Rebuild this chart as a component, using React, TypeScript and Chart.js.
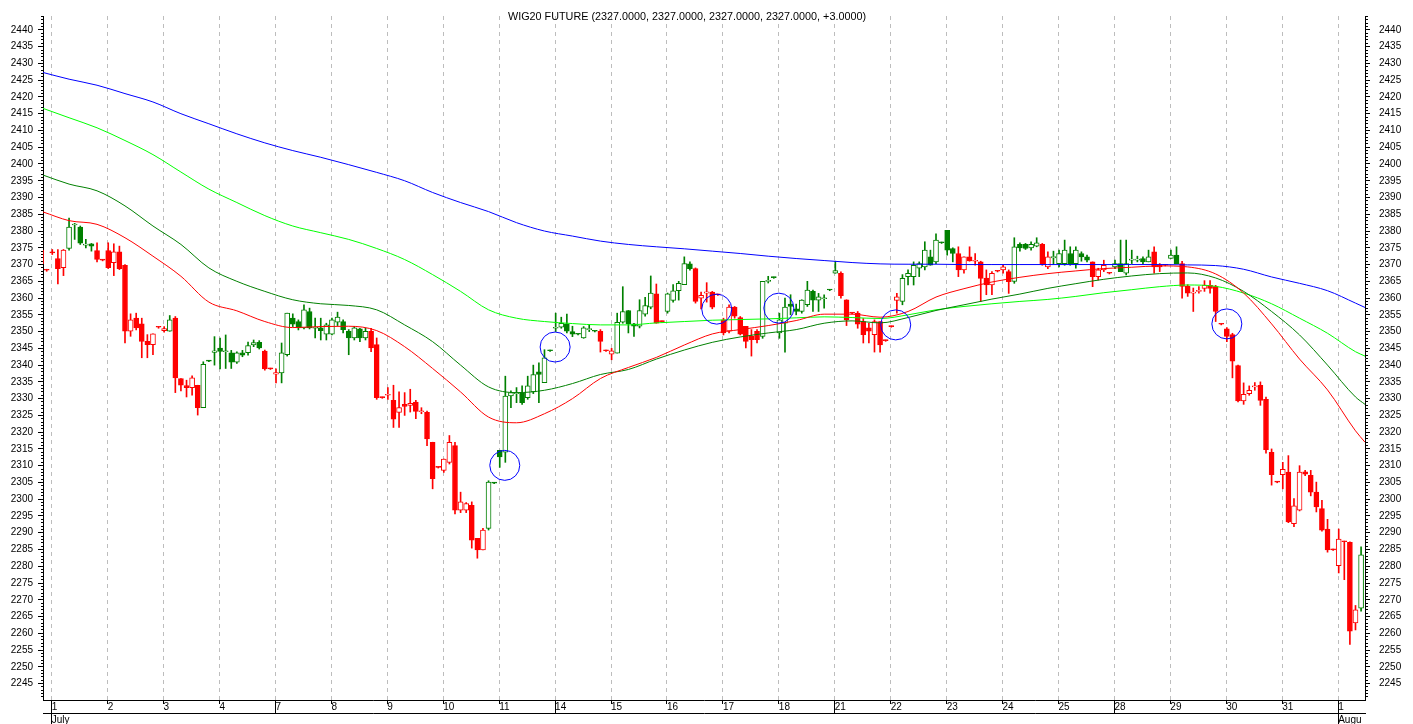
import React, { useEffect, useRef } from 'react';
import { Chart, registerables } from 'chart.js';

Chart.register(...registerables);

const TITLE = 'WIG20 FUTURE (2327.0000, 2327.0000, 2327.0000, 2327.0000, +3.0000)';
const FONT = '"Liberation Sans", Arial, sans-serif';

const DAYS = ['1','2','3','4','7','8','9','10','11','14','15','16','17','18','21','22','23','24','25','28','29','30','31','1'];
const DAY_START = [2,12,22,32,42,52,62,72,82,92,102,112,122,132,142,152,162,172,182,192,202,212,222,232];
const LONG_TICK = [true,false,false,false,true,false,false,false,false,true,false,false,false,false,true,false,false,false,false,true,false,false,false,true];
const MONTHS = ['July', 'Augu'];
const MONTH_START = [2, 232];

const OPEN = [
  2374.3,2368.3,2373.5,2371.8,2369.1,2374.8,2381.8,2381.2,2375.8,2376.2,
  2374.2,2371.3,2374.2,2370.6,2373.8,2369.8,2350.1,2354.0,2352.3,2347.1,
  2346.1,2351.3,2350.3,2350.1,2354.0,2336.0,2333.9,2333.3,2334.0,2327.3,
  2341.2,2343.8,2345.1,2344.0,2343.7,2340.9,2343.7,2343.7,2346.0,2346.8,
  2344.2,2338.9,2337.3,2337.7,2343.1,2354.0,2353.0,2351.1,2356.0,2351.0,
  2351.1,2349.2,2349.2,2352.8,2353.0,2350.1,2348.1,2350.8,2348.1,2350.1,
  2346.1,2330.3,2331.0,2329.5,2325.9,2328.3,2328.0,2329.0,2326.1,2325.9,
  2317.0,2309.5,2308.6,2311.0,2316.0,2296.7,2296.7,2298.2,2288.3,2284.9,
  2291.3,2304.8,2314.6,2314.0,2330.8,2331.5,2331.8,2330.3,2332.0,2338.0,
  2334.8,2344.3,2351.0,2351.3,2352.3,2350.0,2349.2,2348.1,2350.6,2350.1,
  2350.1,2344.3,2343.3,2343.6,2352.8,2356.3,2352.3,2351.6,2355.2,2357.3,
  2361.3,2353.0,2356.0,2359.3,2362.2,2364.0,2370.2,2368.8,2360.0,2361.5,
  2361.8,2361.0,2353.5,2350.1,2357.3,2354.2,2351.6,2348.6,2350.1,2348.6,
  2365.0,2366.1,2349.6,2352.5,2358.2,2356.8,2356.0,2358.0,2362.0,2359.4,
  2359.8,2362.4,2367.4,2367.4,2359.5,2355.5,2355.5,2353.0,2351.1,2349.1,
  2353.0,2347.3,2351.5,2359.3,2359.0,2366.4,2366.4,2368.9,2369.3,2372.3,
  2370.8,2376.5,2380.2,2374.8,2373.3,2368.4,2372.3,2371.0,2370.8,2366.0,
  2363.9,2368.0,2368.4,2367.9,2365.0,2376.0,2376.0,2375.0,2375.5,2376.0,
  2369.3,2372.0,2370.3,2370.3,2373.3,2370.3,2373.3,2372.3,2370.8,2366.4,
  2368.4,2367.4,2369.3,2370.3,2367.4,2371.3,2371.3,2371.8,2370.8,2373.8,
  2369.8,2369.8,2371.8,2372.8,2370.3,2363.5,2361.5,2362.0,2362.9,2363.8,
  2363.4,2352.2,2350.8,2349.1,2339.9,2329.3,2331.5,2333.5,2334.0,2329.8,
  2314.0,2305.1,2307.3,2308.1,2292.7,2296.7,2308.2,2307.1,2302.1,2297.2,
  2291.1,2284.9,2280.2,2287.3,2287.1,2263.1,2267.5,
];
const HIGH = [
  2375.0,2368.6,2374.5,2374.5,2374.5,2383.9,2382.3,2381.5,2377.5,2376.3,
  2376.5,2371.5,2376.5,2376.2,2375.5,2370.0,2355.3,2355.5,2354.0,2349.1,
  2349.3,2351.5,2351.5,2354.8,2354.5,2336.0,2335.5,2336.8,2334.0,2341.0,
  2341.4,2348.5,2348.1,2349.0,2344.4,2344.0,2344.4,2346.9,2347.5,2347.3,
  2344.5,2339.1,2338.9,2346.6,2355.5,2355.3,2353.5,2358.0,2357.0,2354.0,
  2354.0,2352.5,2354.0,2355.8,2353.5,2350.6,2351.5,2351.0,2351.0,2351.0,
  2348.1,2330.5,2333.3,2334.0,2332.0,2331.8,2332.8,2329.5,2327.3,2326.3,
  2317.0,2309.7,2312.0,2319.0,2317.0,2302.1,2299.0,2299.2,2288.3,2291.3,
  2305.5,2305.0,2314.6,2336.7,2332.3,2333.3,2333.8,2336.7,2340.0,2340.7,
  2344.6,2344.5,2355.5,2354.3,2355.2,2351.6,2349.4,2351.5,2352.0,2350.3,
  2350.6,2344.5,2345.0,2355.5,2363.4,2356.3,2352.5,2359.5,2360.2,2366.6,
  2364.2,2353.2,2361.5,2364.0,2365.0,2372.3,2370.8,2369.0,2361.8,2364.6,
  2362.0,2361.2,2354.0,2358.0,2357.5,2354.5,2351.6,2350.6,2350.6,2365.0,
  2366.5,2366.3,2355.5,2360.0,2361.0,2358.2,2359.5,2365.0,2362.4,2361.4,
  2361.0,2362.6,2371.0,2367.8,2359.5,2355.7,2356.0,2353.9,2352.5,2353.5,
  2353.0,2347.5,2351.7,2361.4,2367.0,2368.4,2370.8,2370.8,2376.8,2374.3,
  2379.2,2376.7,2380.2,2375.0,2375.3,2372.3,2375.3,2373.3,2371.0,2368.4,
  2367.9,2368.2,2369.8,2368.4,2378.0,2376.5,2376.3,2376.8,2378.0,2376.3,
  2373.8,2374.0,2374.3,2377.3,2375.3,2375.3,2373.8,2372.8,2370.8,2368.9,
  2371.3,2367.6,2371.3,2377.3,2377.3,2374.3,2372.5,2372.3,2374.3,2375.3,
  2370.3,2370.0,2374.3,2375.3,2371.0,2364.0,2363.0,2363.4,2365.2,2365.2,
  2363.8,2352.4,2351.2,2349.5,2340.0,2334.7,2333.8,2334.8,2335.0,2330.5,
  2315.0,2305.3,2311.0,2313.0,2300.2,2310.0,2308.6,2308.6,2305.1,2299.7,
  2294.0,2285.1,2291.1,2287.5,2287.3,2268.3,2285.8,
];
const LOW = [
  2369.5,2368.0,2373.0,2364.2,2366.7,2374.3,2377.5,2376.0,2375.0,2374.0,
  2370.8,2371.1,2368.8,2366.7,2368.5,2346.6,2348.6,2350.5,2342.2,2342.2,
  2343.1,2351.0,2349.8,2350.1,2331.8,2332.3,2330.5,2331.0,2325.1,2327.3,
  2341.0,2340.0,2338.9,2339.0,2339.0,2340.5,2342.5,2343.0,2345.5,2344.8,
  2338.5,2338.7,2334.7,2334.7,2342.7,2351.5,2350.5,2350.8,2350.8,2348.1,
  2347.5,2347.5,2349.0,2351.8,2349.6,2343.1,2347.5,2347.0,2347.5,2344.0,
  2329.8,2330.1,2329.8,2321.4,2321.4,2325.0,2326.0,2324.0,2325.5,2316.0,
  2303.1,2309.3,2308.0,2310.5,2295.6,2296.0,2296.0,2285.4,2282.4,2284.9,
  2290.8,2304.6,2309.5,2311.0,2327.3,2328.8,2328.3,2329.8,2331.5,2328.8,
  2334.8,2344.1,2350.0,2351.0,2349.6,2348.5,2349.0,2348.0,2350.0,2349.9,
  2343.9,2344.1,2341.6,2343.6,2352.5,2349.6,2348.6,2351.1,2354.6,2356.8,
  2352.5,2352.8,2355.5,2358.8,2359.4,2364.0,2368.3,2358.5,2356.8,2358.8,
  2356.8,2360.8,2349.0,2349.6,2354.0,2349.0,2345.1,2342.7,2346.6,2348.0,
  2364.5,2365.9,2348.0,2343.9,2355.0,2355.0,2355.5,2357.5,2356.0,2356.0,
  2357.0,2362.2,2367.4,2360.0,2351.8,2355.3,2351.0,2346.6,2346.6,2343.9,
  2343.9,2347.1,2351.3,2355.5,2358.0,2363.9,2363.9,2366.4,2368.4,2369.8,
  2370.3,2376.3,2372.8,2370.8,2366.4,2367.4,2371.0,2369.8,2359.0,2361.0,
  2361.0,2367.8,2367.4,2361.4,2364.4,2374.0,2374.5,2374.3,2375.3,2369.8,
  2368.8,2370.0,2369.3,2369.8,2369.8,2368.9,2371.0,2370.8,2363.4,2365.4,
  2367.9,2367.2,2368.8,2367.9,2366.9,2370.3,2370.8,2370.3,2370.8,2367.4,
  2367.9,2369.6,2371.8,2370.3,2360.0,2360.5,2356.0,2361.5,2362.0,2361.5,
  2353.0,2352.0,2347.0,2336.2,2329.0,2328.3,2331.0,2332.5,2328.0,2313.7,
  2304.2,2304.9,2303.1,2293.0,2291.8,2296.5,2307.0,2301.0,2296.2,2290.5,
  2284.2,2284.7,2278.0,2276.0,2256.7,2261.0,2266.6,
];
const CLOSE = [
  2370.3,2368.3,2373.5,2368.8,2374.3,2381.2,2382.0,2376.4,2376.0,2375.5,
  2371.5,2371.3,2369.1,2373.8,2368.8,2350.1,2353.5,2351.1,2347.1,2346.1,
  2349.3,2351.3,2350.9,2353.5,2336.2,2334.0,2333.3,2336.2,2327.3,2340.2,
  2341.2,2344.3,2344.1,2344.2,2340.9,2343.7,2343.0,2345.8,2346.7,2345.1,
  2338.9,2338.9,2337.8,2343.7,2355.5,2352.2,2351.1,2356.5,2351.1,2351.2,
  2350.3,2352.0,2353.5,2354.3,2350.6,2348.1,2351.1,2348.1,2350.1,2345.1,
  2330.3,2330.3,2331.3,2323.9,2327.3,2327.7,2328.6,2326.2,2326.3,2318.0,
  2306.1,2309.5,2312.0,2317.0,2296.7,2299.2,2298.7,2287.8,2284.9,2290.8,
  2305.1,2304.8,2312.6,2330.8,2331.8,2331.8,2328.8,2333.8,2337.2,2337.2,
  2342.2,2344.3,2351.3,2352.5,2350.1,2349.2,2349.2,2351.1,2350.8,2350.1,
  2347.1,2344.3,2344.3,2352.8,2356.0,2352.3,2351.6,2356.3,2357.8,2361.5,
  2352.5,2353.0,2361.3,2362.2,2364.4,2370.3,2368.8,2359.0,2360.8,2361.9,
  2357.3,2361.0,2349.6,2357.3,2354.6,2349.2,2347.1,2347.6,2347.6,2365.0,
  2365.3,2366.1,2353.5,2357.3,2357.5,2356.0,2359.4,2362.4,2359.4,2360.4,
  2360.0,2362.4,2368.2,2360.7,2353.5,2355.5,2352.2,2349.1,2350.1,2353.0,
  2346.0,2347.3,2351.5,2360.4,2365.9,2367.4,2369.8,2370.3,2374.3,2369.8,
  2377.3,2376.5,2374.3,2373.3,2368.4,2372.3,2371.1,2371.2,2365.9,2363.9,
  2367.4,2368.0,2369.3,2364.9,2375.3,2375.0,2374.8,2376.0,2376.5,2370.3,
  2372.3,2372.4,2373.3,2374.3,2370.3,2374.3,2372.3,2371.3,2366.4,2368.4,
  2369.8,2367.4,2370.3,2367.9,2370.3,2371.5,2371.5,2370.8,2372.3,2369.3,
  2369.3,2369.8,2372.8,2370.3,2363.5,2361.5,2361.8,2362.3,2363.9,2362.9,
  2356.0,2352.2,2348.6,2341.2,2329.3,2331.3,2332.5,2333.7,2329.5,2314.8,
  2307.3,2305.1,2308.9,2293.2,2298.0,2308.1,2307.5,2302.1,2297.7,2290.8,
  2284.9,2284.9,2288.1,2287.3,2260.6,2267.0,2283.4,
];
// candle tone as drawn: r = red, g = green (one letter per bar)
const TONE = (
  'rrrrrggggg' + 'rrrrrrrrrr' + 'rrrgrrrrrg' + 'gggggggggg' + 'rrrggggggg' +
  'gggggggggr' + 'rrrrrrrrrr' + 'rrrrrrrrrr' + 'gggggggggg' + 'gggggggggg' +
  'rrrggggggg' + 'rrgggggrrr' + 'rrrrrrrrrg' + 'gggggggggg' + 'gggrrrrrrr' +
  'rrrrgggggg' + 'ggggrrrrrr' + 'rrrrgggggr' + 'rgggggggrr' + 'rrgggggggr' +
  'rrggrrrrrr' + 'rrrrrrrrrr' + 'rrrrrrrrrr' + 'rrrrrrg'
).split('');

const MA_X = [0.34,5,10,15,20,25,30,35,40,45,50,55,60,65,70,75,80,85,90,95,100,105,110,115,120,125,130,135,140,145,150,155,160,165,170,175,180,185,190,195,200,205,210,215,220,225,230,235,236.7];
const MA_BLUE = [2427.3,2425.3,2423.5,2421.0,2418.5,2415.0,2412.0,2409.0,2406.3,2404.0,2402.0,2399.8,2397.5,2395.0,2391.5,2388.5,2385.8,2382.5,2380.0,2378.5,2377.0,2376.0,2375.3,2374.7,2374.0,2373.3,2372.5,2371.8,2371.2,2370.6,2370.2,2370.1,2370.1,2370.0,2370.0,2370.0,2370.0,2370.0,2370.0,2370.0,2370.0,2369.9,2369.7,2368.6,2366.3,2364.4,2362.2,2358.5,2357.2];
const MA_LIME = [2416.6,2413.8,2410.8,2407.0,2402.8,2397.6,2392.5,2388.5,2384.6,2381.5,2379.5,2377.5,2374.8,2371.5,2367.0,2362.0,2356.5,2354.0,2353.0,2352.4,2352.0,2352.0,2352.6,2353.0,2353.4,2353.6,2353.8,2354.1,2354.4,2354.2,2353.9,2355.0,2356.5,2357.5,2358.3,2359.0,2359.6,2360.5,2361.6,2362.5,2363.4,2363.9,2363.5,2361.5,2358.3,2354.0,2349.5,2344.0,2342.7];
const MA_GREEN = [2396.7,2394.0,2392.0,2387.5,2381.5,2376.0,2369.0,2365.0,2362.0,2359.5,2358.3,2357.8,2356.5,2352.0,2347.0,2340.0,2333.5,2331.8,2332.5,2334.5,2337.2,2338.7,2341.8,2344.5,2346.8,2348.4,2349.6,2350.6,2352.5,2353.2,2352.6,2354.2,2356.3,2358.0,2359.7,2361.2,2362.9,2364.3,2365.6,2366.6,2367.3,2367.5,2366.0,2362.0,2356.0,2349.0,2340.0,2330.5,2328.3];
const MA_RED = [2385.7,2383.1,2382.0,2378.0,2372.5,2366.5,2358.8,2356.2,2353.0,2351.2,2351.5,2351.6,2350.3,2345.5,2339.0,2332.0,2324.5,2322.8,2325.5,2330.0,2336.0,2339.3,2342.3,2346.0,2349.3,2350.6,2351.8,2353.3,2355.2,2355.2,2354.3,2356.0,2360.3,2362.8,2364.8,2366.2,2367.3,2368.1,2368.8,2369.2,2369.6,2369.3,2367.2,2361.5,2352.3,2341.8,2332.6,2320.4,2317.0];

const CIRCLE_X = [82.9, 91.9, 120.8, 131.9, 152.8, 212.0];
const CIRCLE_Y = [2310.1, 2345.4, 2356.7, 2357.0, 2352.0, 2352.3];

const Y_MIN = 2240.1;
const Y_MAX = 2444.15;
const X_MIN = 0.34;
const X_MAX = 236.7;

const RED = '#ff0000';
const GREEN = '#008000';

const titlePlugin = {
  id: 'wigTitle',
  afterDraw(chart: any) {
    const ctx = chart.ctx;
    ctx.save();
    ctx.font = '10.8px ' + FONT;
    ctx.fillStyle = '#000';
    ctx.textAlign = 'left';
    ctx.textBaseline = 'middle';
    ctx.fillText(TITLE, 508, 17);
    ctx.restore();
  },
};

export default function App() {
  const ref = useRef<HTMLCanvasElement>(null);
  useEffect(() => {
    document.body.style.margin = '0';
    const canvas = ref.current!;
    const idx = OPEN.map((_, i) => i);
    const col = (i: number) => (TONE[i] === 'g' ? GREEN : RED);
    const hollow = (i: number) => CLOSE[i] > OPEN[i];
    const tickFont = { family: FONT, size: 10, lineHeight: 1 };

    const line = (vals: number[], color: string, order: number) => ({
      type: 'line',
      data: MA_X.map((x, i) => ({ x, y: vals[i] })),
      borderColor: color,
      borderWidth: 1,
      pointRadius: 0,
      cubicInterpolationMode: 'monotone',
      fill: false,
      order,
    });

    const chart = new Chart(canvas, {
      type: 'bar',
      data: {
        datasets: [
          {
            type: 'bar',
            data: idx.map((i) => ({ x: i, y: [LOW[i], HIGH[i]] })),
            backgroundColor: idx.map(col),
            borderWidth: 0,
            barThickness: 1,
            grouped: false,
            minBarLength: 1,
            order: 10,
          },
          {
            type: 'bar',
            data: idx.map((i) => ({ x: i, y: [Math.min(OPEN[i], CLOSE[i]), Math.max(OPEN[i], CLOSE[i])] })),
            backgroundColor: idx.map((i) => (hollow(i) ? '#ffffff' : col(i))),
            borderColor: idx.map(col),
            borderWidth: 1,
            borderSkipped: false,
            barThickness: 5,
            grouped: false,
            minBarLength: 1,
            order: 9,
          },
          line(MA_BLUE, '#0000ff', 5),
          line(MA_LIME, '#00ff00', 4),
          line(MA_GREEN, '#008000', 3),
          line(MA_RED, '#ff0000', 2),
          {
            type: 'line',
            data: CIRCLE_X.map((x, i) => ({ x, y: CIRCLE_Y[i] })),
            showLine: false,
            pointRadius: 15,
            pointBorderColor: '#0000ff',
            pointBackgroundColor: 'rgba(0,0,0,0)',
            pointBorderWidth: 1,
            order: 0,
          },
        ] as any,
      },
      options: {
        responsive: false,
        devicePixelRatio: 1,
        animation: false,
        events: [],
        layout: { padding: { top: 11, left: 0, right: 0, bottom: 0 } },
        plugins: { legend: { display: false }, tooltip: { enabled: false }, title: { display: false } },
        scales: {
          x: {
            type: 'linear',
            position: 'bottom',
            min: X_MIN,
            max: X_MAX,
            offset: false,
            weight: 0,
            afterBuildTicks: (s: any) => { s.ticks = DAY_START.map((v) => ({ value: v - 0.1 })); },
            afterFit: (s: any) => { s.height = 13; },
            ticks: {
              autoSkip: false,
              maxRotation: 0,
              minRotation: 0,
              align: 'start',
              padding: -11,
              color: '#000',
              font: tickFont,
              callback: (_v: any, i: number) => DAYS[i],
            },
            grid: {
              offset: false,
              color: '#bdbdbd',
              lineWidth: 1,
              tickLength: 13,
              tickColor: '#000',
              tickWidth: 1,
              tickBorderDash: (c: any) => (LONG_TICK[c.index] ? [] : [3, 40]),
            },
            border: { color: '#000', width: 1, dash: [4, 4] },
          },
          xm: {
            type: 'linear',
            position: 'bottom',
            min: X_MIN,
            max: X_MAX,
            offset: false,
            weight: 1,
            afterBuildTicks: (s: any) => { s.ticks = MONTH_START.map((v) => ({ value: v - 0.1 })); },
            afterFit: (s: any) => { s.height = 11; },
            ticks: {
              autoSkip: false,
              maxRotation: 0,
              minRotation: 0,
              align: 'start',
              padding: -9,
              color: '#000',
              font: tickFont,
              callback: (_v: any, i: number) => MONTHS[i],
            },
            grid: { offset: false, drawOnChartArea: false, tickLength: 11, tickColor: '#000', tickWidth: 1 },
            border: { color: '#000', width: 1 },
          },
          y: {
            type: 'linear',
            position: 'left',
            min: Y_MIN,
            max: Y_MAX,
            afterFit: (s: any) => { s.width = 43; },
            ticks: {
              stepSize: 1,
              autoSkip: false,
              includeBounds: false,
              padding: 5,
              color: '#000',
              font: tickFont,
              callback: (v: any) => (Number(v) % 5 === 0 ? String(v) : ''),
            },
            grid: {
              drawOnChartArea: false,
              tickLength: 5,
              tickColor: '#000',
              tickBorderDash: (c: any) => (c.tick && c.tick.value % 5 === 0 ? [] : [2, 3]),
              tickBorderDashOffset: (c: any) => (c.tick && c.tick.value % 5 === 0 ? 0 : 2),
            },
            border: { color: '#000', width: 1 },
          },
          y2: {
            type: 'linear',
            position: 'right',
            min: Y_MIN,
            max: Y_MAX,
            afterFit: (s: any) => { s.width = 48; },
            ticks: {
              stepSize: 1,
              autoSkip: false,
              includeBounds: false,
              padding: 9,
              color: '#000',
              font: tickFont,
              callback: (v: any) => (Number(v) % 5 === 0 ? String(v) : ''),
            },
            grid: {
              drawOnChartArea: false,
              tickLength: 5,
              tickColor: '#000',
              tickBorderDash: (c: any) => (c.tick && c.tick.value % 5 === 0 ? [] : [2, 40]),
            },
            border: { color: '#000', width: 1 },
          },
        },
      } as any,
      plugins: [titlePlugin],
    });
    return () => chart.destroy();
  }, []);
  return <canvas ref={ref} width={1413} height={724} style={{ display: 'block', width: 1413, height: 724 }} />;
}
